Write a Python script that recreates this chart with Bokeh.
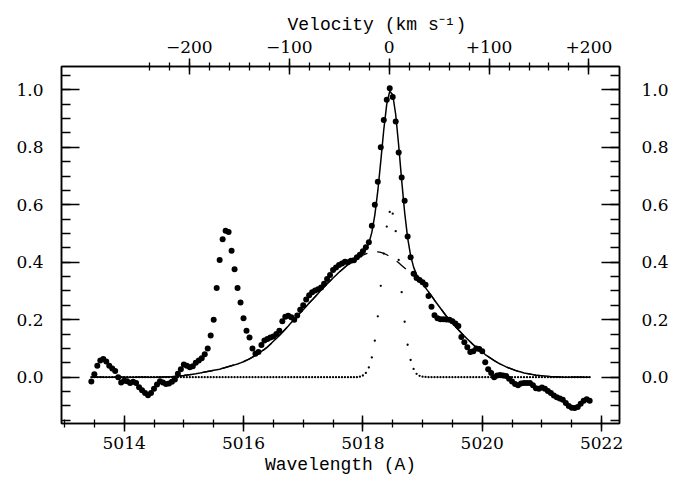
import numpy as np
from bokeh.plotting import figure
from bokeh.models import Range1d, LinearAxis, FixedTicker, PrintfTickFormatter
from bokeh.embed import file_html
from bokeh.resources import INLINE

# ---------------- data ----------------
WAVE_START = 5013.45      # first sample (A)
WAVE_STEP = 0.05          # sampling step (A)
REST_WAVE = 5018.44       # zero-velocity wavelength (A)
C_KMS = 299792.458

# observed (normalised) profile
flux = [
    -0.015, 0.010, 0.040, 0.058, 0.063, 0.055, 0.040, 0.030, 0.022, 0.000,
    -0.018, -0.012, -0.014, -0.020, -0.016, -0.020, -0.035, -0.045, -0.055, -0.063,
    -0.055, -0.040, -0.025, -0.014, -0.018, -0.024, -0.022, -0.016, -0.008, 0.012,
    0.028, 0.044, 0.040, 0.035, 0.038, 0.050, 0.058, 0.066, 0.080, 0.100,
    0.145, 0.200, 0.310, 0.408, 0.480, 0.510, 0.505, 0.440, 0.376, 0.310,
    0.260, 0.205, 0.162, 0.138, 0.100, 0.082, 0.088, 0.112, 0.128, 0.133,
    0.138, 0.142, 0.150, 0.162, 0.195, 0.210, 0.214, 0.209, 0.200, 0.215,
    0.235, 0.250, 0.270, 0.285, 0.296, 0.302, 0.306, 0.312, 0.325, 0.342,
    0.356, 0.373, 0.382, 0.390, 0.396, 0.402, 0.400, 0.405, 0.407, 0.417,
    0.426, 0.438, 0.452, 0.470, 0.527, 0.600, 0.680, 0.800, 0.895, 0.965,
    1.005, 0.975, 0.890, 0.782, 0.695, 0.614, 0.490, 0.417, 0.360, 0.345,
    0.338, 0.330, 0.322, 0.283, 0.245, 0.216, 0.205, 0.202, 0.202, 0.201,
    0.200, 0.195, 0.187, 0.178, 0.140, 0.122, 0.104, 0.088, 0.090, 0.100,
    0.098, 0.090, 0.052, 0.028, 0.015, 0.000, 0.006, 0.008, 0.006, 0.004,
    -0.005, -0.015, -0.024, -0.028, -0.022, -0.020, -0.020, -0.020, -0.028, -0.038,
    -0.040, -0.036, -0.040, -0.048, -0.055, -0.064, -0.070, -0.074, -0.078, -0.090,
    -0.100, -0.106, -0.107, -0.104, -0.092, -0.082, -0.077, -0.082,
]

# broad model component
broad = [
    0, 0, 0, 0, 0, 0, 0, 0, 0, 0,
    0, 0, 0, 0, 0, 0, 0, 0, 0, 0,
    0, 0, 0, 0, 0.0005, 0.001, 0.001, 0.002, 0.003, 0.004,
    0.005, 0.006, 0.0075, 0.009, 0.0105, 0.012, 0.014, 0.016, 0.018, 0.020,
    0.022, 0.024, 0.026, 0.028, 0.031, 0.034, 0.037, 0.040, 0.043, 0.046,
    0.050, 0.054, 0.059, 0.064, 0.070, 0.076, 0.083, 0.090, 0.097, 0.105,
    0.115, 0.125, 0.135, 0.145, 0.156, 0.167, 0.178, 0.190, 0.201, 0.212,
    0.224, 0.235, 0.246, 0.258, 0.269, 0.280, 0.291, 0.303, 0.314, 0.325,
    0.335, 0.345, 0.355, 0.365, 0.374, 0.383, 0.392, 0.400, 0.407, 0.413,
    0.419, 0.425, 0.429, 0.432, 0.435, 0.437, 0.436, 0.434, 0.431, 0.426,
    0.420, 0.414, 0.406, 0.398, 0.389, 0.380, 0.372, 0.363, 0.354, 0.345,
    0.335, 0.325, 0.310, 0.297, 0.283, 0.268, 0.254, 0.240, 0.226, 0.212,
    0.200, 0.188, 0.176, 0.165, 0.154, 0.143, 0.133, 0.123, 0.113, 0.104,
    0.095, 0.087, 0.079, 0.072, 0.065, 0.058, 0.052, 0.046, 0.041, 0.036,
    0.032, 0.028, 0.024, 0.021, 0.018, 0.015, 0.013, 0.011, 0.009, 0.007,
    0.006, 0.005, 0.004, 0.003, 0.002, 0.002, 0.001, 0.001, 0, 0,
    0, 0, 0, 0, 0, 0, 0, 0,
]

# narrow model component
narrow = [
    0, 0, 0, 0, 0, 0, 0, 0, 0, 0,
    0, 0, 0, 0, 0, 0, 0, 0, 0, 0,
    0, 0, 0, 0, 0, 0, 0, 0, 0, 0,
    0, 0, 0, 0, 0, 0, 0, 0, 0, 0,
    0, 0, 0, 0, 0, 0, 0, 0, 0, 0,
    0, 0, 0, 0, 0, 0, 0, 0, 0, 0,
    0, 0, 0, 0, 0, 0, 0, 0, 0, 0,
    0, 0, 0, 0, 0, 0, 0, 0, 0, 0,
    0, 0, 0, 0, 0, 0, 0, 0, 0, 0,
    0.002, 0.006, 0.015, 0.034, 0.069, 0.127, 0.212, 0.318, 0.430, 0.524,
    0.575, 0.569, 0.508, 0.408, 0.296, 0.193, 0.113, 0.060, 0.029, 0.012,
    0.005, 0.002, 0.001, 0, 0, 0, 0, 0, 0, 0,
    0, 0, 0, 0, 0, 0, 0, 0, 0, 0,
    0, 0, 0, 0, 0, 0, 0, 0, 0, 0,
    0, 0, 0, 0, 0, 0, 0, 0, 0, 0,
    0, 0, 0, 0, 0, 0, 0, 0, 0, 0,
    0, 0, 0, 0, 0, 0, 0, 0,
]

# axes / ticks
x_ticks = [5014, 5016, 5018, 5020, 5022]
x_minor = [5013.0, 5013.5, 5014.0, 5014.5, 5015.0, 5015.5, 5016.0, 5016.5, 5017.0,
           5017.5, 5018.0, 5018.5, 5019.0, 5019.5, 5020.0, 5020.5, 5021.0, 5021.5, 5022.0]
y_ticks = [0.0, 0.2, 0.4, 0.6, 0.8, 1.0]
y_minor = [-0.15, -0.10, -0.05, 0.0, 0.05, 0.10, 0.15, 0.20, 0.25, 0.30, 0.35, 0.40,
           0.45, 0.50, 0.55, 0.60, 0.65, 0.70, 0.75, 0.80, 0.85, 0.90, 0.95, 1.00, 1.05]
v_ticks = [-200, -100, 0, 100, 200]
v_labels = ["\u2212200", "\u2212100", "0", "+100", "+200"]
v_minor = [-240, -220, -200, -180, -160, -140, -120, -100, -80, -60, -40, -20, 0,
           20, 40, 60, 80, 100, 120, 140, 160, 180, 200]

XMIN, XMAX = 5012.95, 5022.30
YMIN, YMAX = -0.161, 1.081

# ---------------- plot ----------------
wave = WAVE_START + WAVE_STEP * np.arange(len(flux))
total = np.array(broad) + np.array(narrow)

p = figure(width=686, height=477, x_range=Range1d(XMIN, XMAX), y_range=Range1d(YMIN, YMAX),
           output_backend="svg", toolbar_location=None,
           x_axis_location=None, y_axis_location=None,
           min_border_left=61, min_border_right=67, min_border_top=66, min_border_bottom=54)
p.grid.grid_line_color = None
p.background_fill_color = "white"
p.border_fill_color = "white"
p.outline_line_color = "black"
p.outline_line_width = 1.5

p.extra_x_ranges = {"vel": Range1d(C_KMS * (XMIN - REST_WAVE) / REST_WAVE,
                                   C_KMS * (XMAX - REST_WAVE) / REST_WAVE)}

TICK_FONT = "DejaVu Serif"
TITLE_FONT = "Liberation Mono"


def style(ax, tin, tout, mtin, mtout, standoff):
    ax.axis_line_color = "black"
    ax.axis_line_width = 1.5
    ax.major_tick_line_color = "black"
    ax.major_tick_line_width = 1.5
    ax.minor_tick_line_color = "black"
    ax.minor_tick_line_width = 1.3
    ax.major_tick_in = tin
    ax.major_tick_out = tout
    ax.minor_tick_in = mtin
    ax.minor_tick_out = mtout
    ax.major_label_text_font = TICK_FONT
    ax.major_label_text_font_size = "17px"
    ax.major_label_text_color = "black"
    ax.major_label_standoff = standoff
    ax.axis_label_text_font = TITLE_FONT
    ax.axis_label_text_font_size = "18px"
    ax.axis_label_text_font_style = "normal"
    ax.axis_label_text_color = "black"


bottom = LinearAxis(ticker=FixedTicker(ticks=x_ticks, minor_ticks=x_minor),
                    axis_label="Wavelength (A)")
style(bottom, 8, 8, 4, 4, 5)
bottom.axis_label_standoff = 3
p.add_layout(bottom, "below")

top = LinearAxis(x_range_name="vel", ticker=FixedTicker(ticks=v_ticks, minor_ticks=v_minor))
top.major_label_overrides = {t: lab for t, lab in zip(v_ticks, v_labels)}
style(top, 8, 8, 4, 4, 6)
p.add_layout(top, "above")

left = LinearAxis(ticker=FixedTicker(ticks=y_ticks, minor_ticks=y_minor),
                  formatter=PrintfTickFormatter(format="%.1f"))
style(left, 18, 0, 9, 0, 18)
p.add_layout(left, "left")

right = LinearAxis(ticker=FixedTicker(ticks=y_ticks, minor_ticks=y_minor),
                   formatter=PrintfTickFormatter(format="%.1f"))
style(right, 18, 0, 9, 0, 22)
p.add_layout(right, "right")

p.title.text = "Velocity (km s\u207b\u00b9)"
p.title.align = "left"
p.title.offset = 226
p.title.text_font = TITLE_FONT
p.title.text_font_size = "18px"
p.title.text_font_style = "normal"
p.title.text_color = "black"
p.title.standoff = 6

# narrow component (tiny dots)
p.scatter(wave, narrow, size=2.3, color="black", line_width=0)
# broad component (dashed)
p.line(wave, broad, line_color="black", line_width=1.3, line_dash="12 10")
# total model (solid)
p.line(wave, total, line_color="black", line_width=1.5)
# observed data
p.scatter(wave, flux, size=6, color="black", line_width=0)

open("out.html", "w").write(file_html(p, INLINE))
